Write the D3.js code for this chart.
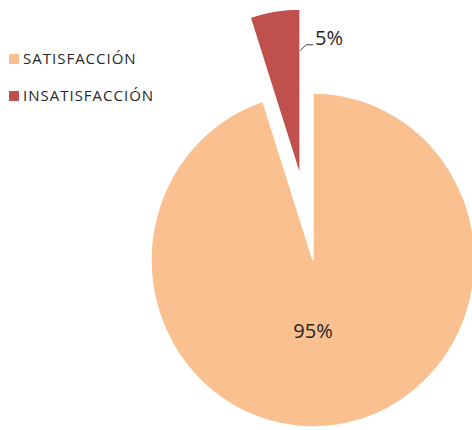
<!DOCTYPE html>
<html>
<head>
<meta charset="utf-8">
<script src="https://cdn.jsdelivr.net/npm/d3@7"></script>
<style>
  body { margin: 0; background: #fff; }
  text { font-family: "Open Sans", sans-serif; fill: #262626; }
</style>
</head>
<body>
<div id="chart"></div>
<script>
// data
const categories = ["SATISFACCIÓN", "INSATISFACCIÓN"];
const values = [95, 5];
const labels = ["95%", "5%"];
const colors = ["#FAC090", "#C0504D"];

const width = 472,
    height = 430;

// pie geometry
const cx = 313, cy = 260;
const radius = 167;
const squash = 0.97;     // picture is a touch narrower than tall
const explode = 85;      // offset of the small slice

const svg = d3.select("#chart")
    .append("svg")
    .attr("width", width)
    .attr("height", height);

const pie = d3.pie()
    .sort(null)
    .value(d => d[1]);
const data_ready = pie(d3.zip(categories, values));

const arcGenerator = d3.arc()
    .innerRadius(0)
    .outerRadius(radius);

const labelArc = d3.arc()
    .innerRadius(radius * 0.43)
    .outerRadius(radius * 0.43);

function offset(d) {
    if (d.index === 0) return [0, 0];
    const mid = (d.startAngle + d.endAngle) / 2;
    return [Math.sin(mid) * explode * squash, -Math.cos(mid) * explode];
}

const g = svg.append("g")
    .attr("transform", `translate(${cx},${cy})`);

g.selectAll("path")
    .data(data_ready)
    .join("path")
    .attr("d", arcGenerator)
    .attr("transform", d => {
        const o = offset(d);
        return `translate(${o[0]},${o[1]}) scale(${squash},1)`;
    })
    .attr("fill", (d, i) => colors[i])
    .attr("stroke", "#fff")
    .attr("stroke-width", 1.5);

// big slice label inside, centred under the pie centre
const big = data_ready[0];
const bc = labelArc.centroid(big);
g.append("text")
    .attr("x", 0)
    .attr("y", bc[1] + 7)
    .attr("text-anchor", "middle")
    .style("font-size", "20px")
    .text(labels[0]);

// small slice label with leader line
const small = data_ready[1];
const so = offset(small);
const sx = so[0] + Math.sin(small.endAngle) * radius * 0.75 * squash;
const sy = so[1] - Math.cos(small.endAngle) * radius * 0.75;
g.append("path")
    .attr("d", `M${sx},${sy} L${sx + 6},${sy - 6} L${sx + 13},${sy - 6}`)
    .attr("fill", "none")
    .attr("stroke", "#404040")
    .attr("stroke-width", 1);
g.append("text")
    .attr("x", sx + 15)
    .attr("y", sy - 6)
    .style("font-size", "20px")
    .text(labels[1]);

// legend
const legend = svg.append("g")
    .attr("transform", "translate(9,54)");
const rows = legend.selectAll("g")
    .data(categories)
    .join("g")
    .attr("transform", (d, i) => `translate(0,${i * 37})`);
rows.append("rect")
    .attr("width", 10)
    .attr("height", 10)
    .attr("fill", (d, i) => colors[i]);
rows.append("text")
    .attr("x", 14)
    .attr("y", 10)
    .style("font-size", "15px")
    .style("letter-spacing", "1px")
    .text(d => d);
</script>
</body>
</html>
